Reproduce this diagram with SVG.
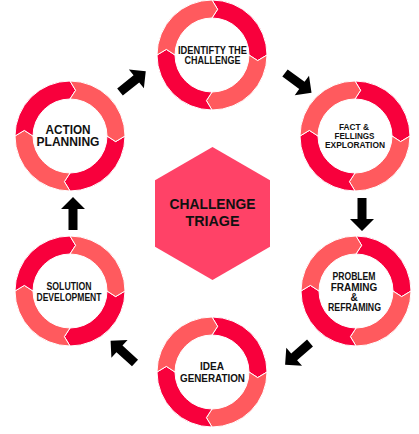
<svg xmlns="http://www.w3.org/2000/svg" xmlns:xlink="http://www.w3.org/1999/xlink" width="419" height="434" viewBox="0 0 419 434">
<style>
.dk{fill:#F8003C}
.lt{fill:#FF5A5E}
.seg{stroke:#ffffff;stroke-width:1;stroke-linejoin:miter}
.t{font-family:"Liberation Sans",Arial,sans-serif;font-weight:bold;fill:#111;text-anchor:middle}
.arr{fill:#000}
</style>
<defs>
<path id="seg" class="seg" d="M0,-55 A55,55 0 0 1 55,0 L45.66,5.61 L37,0 A37,37 0 0 0 0,-37 L5.61,-45.66 Z"/>
<g id="ringA">
<use href="#seg" class="dk"/>
<use href="#seg" class="lt" transform="rotate(90)"/>
<use href="#seg" class="dk" transform="rotate(180)"/>
<use href="#seg" class="lt" transform="rotate(270)"/>
</g>
<g id="ringB"><use href="#ringA" transform="rotate(90)"/></g>
<path id="arrow" d="M0,-4.5 H21 V-12 L33,0 L21,12 V4.5 H0 Z"/>
</defs>
<rect width="419" height="434" fill="#ffffff"/>

<g id="center">
<polygon points="212.5,147 270,180.2 270,246.8 212.5,280 155,246.8 155,180.2" fill="#FF4267"/>
<text class="t" x="212.5" y="209.3" font-size="15" textLength="86" lengthAdjust="spacingAndGlyphs">CHALLENGE</text>
<text class="t" x="212.5" y="226" font-size="15" textLength="54" lengthAdjust="spacingAndGlyphs">TRIAGE</text>
</g>

<g id="identify">
<use href="#ringA" transform="translate(212,55)"/>
<text class="t" x="212.5" y="53.5" font-size="10.2" textLength="69" lengthAdjust="spacingAndGlyphs">IDENTIFTY THE</text>
<text class="t" x="212.5" y="64" font-size="10.2" textLength="56" lengthAdjust="spacingAndGlyphs">CHALLENGE</text>
</g>

<g id="fact">
<use href="#ringA" transform="translate(355,136)"/>
<text class="t" x="354" y="130" font-size="9" textLength="30" lengthAdjust="spacingAndGlyphs">FACT &amp;</text>
<text class="t" x="354.5" y="139" font-size="9" textLength="40" lengthAdjust="spacingAndGlyphs">FELLINGS</text>
<text class="t" x="355" y="148" font-size="9" textLength="60" lengthAdjust="spacingAndGlyphs">EXPLORATION</text>
</g>

<g id="problem">
<use href="#ringA" transform="translate(356,291)"/>
<text class="t" x="354" y="280" font-size="10" textLength="43" lengthAdjust="spacingAndGlyphs">PROBLEM</text>
<text class="t" x="354" y="290.5" font-size="10">FRAMING</text>
<text class="t" x="354" y="300.5" font-size="10">&amp;</text>
<text class="t" x="354.5" y="310.5" font-size="10" textLength="53" lengthAdjust="spacingAndGlyphs">REFRAMING</text>
</g>

<g id="idea">
<use href="#ringA" transform="translate(212,372)"/>
<text class="t" x="212" y="369.5" font-size="10.5" textLength="24" lengthAdjust="spacingAndGlyphs">IDEA</text>
<text class="t" x="212.5" y="381.5" font-size="10.5" textLength="65" lengthAdjust="spacingAndGlyphs">GENERATION</text>
</g>

<g id="solution">
<use href="#ringB" transform="translate(70,291)"/>
<text class="t" x="69" y="290" font-size="10.2" textLength="45" lengthAdjust="spacingAndGlyphs">SOLUTION</text>
<text class="t" x="69" y="300.5" font-size="10.2" textLength="65" lengthAdjust="spacingAndGlyphs">DEVELOPMENT</text>
</g>

<g id="action">
<use href="#ringB" transform="translate(70,136)"/>
<text class="t" x="68" y="133.5" font-size="12.2" textLength="45" lengthAdjust="spacingAndGlyphs">ACTION</text>
<text class="t" x="68" y="146" font-size="12.2" textLength="63" lengthAdjust="spacingAndGlyphs">PLANNING</text>
</g>

<g id="connectors" class="arr">
<use href="#arrow" transform="translate(120,92) rotate(-38.7)"/>
<use href="#arrow" transform="translate(285,73) rotate(36.5)"/>
<use href="#arrow" transform="translate(362,198) rotate(90)"/>
<use href="#arrow" transform="translate(310,343) rotate(139)"/>
<use href="#arrow" transform="translate(135,363) rotate(-137.7)"/>
<use href="#arrow" transform="translate(73,230) rotate(-90)"/>
</g>
</svg>
